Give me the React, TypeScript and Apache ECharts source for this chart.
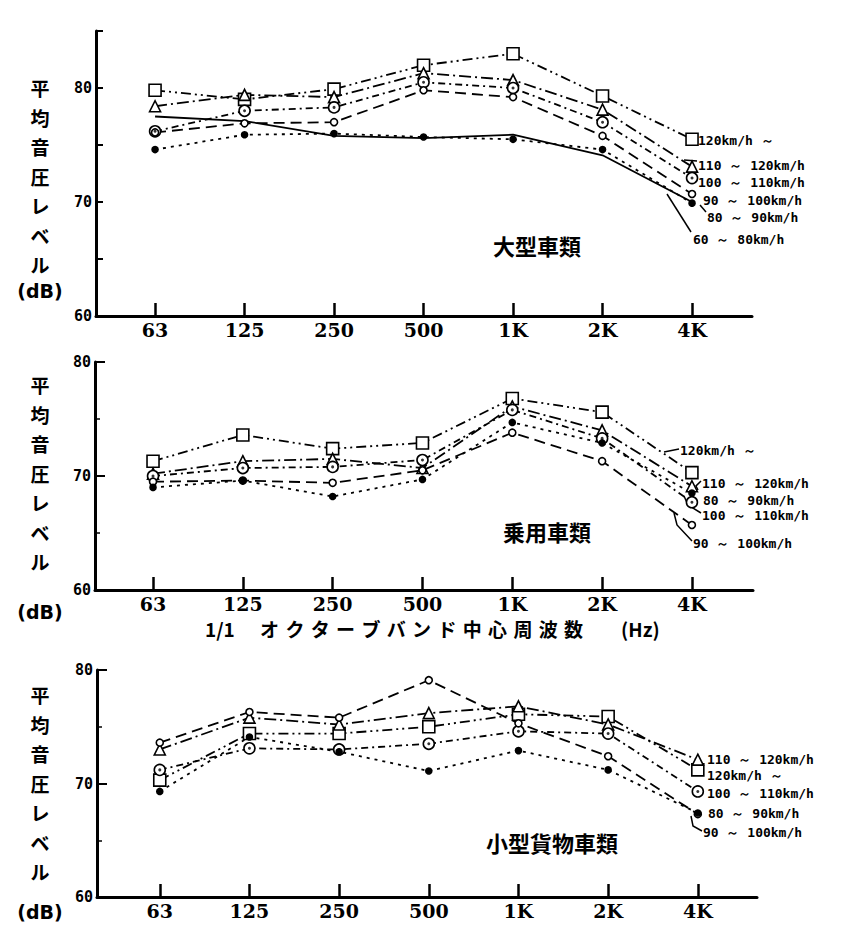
import React, { useEffect, useRef } from 'react';
import * as echarts from 'echarts';

// ---------- data ----------
const freqLabels = ['63', '125', '250', '500', '1K', '2K', '4K'];

const speed120 = '120km/h ～';
const speed110 = '110 ～ 120km/h';
const speed100 = '100 ～ 110km/h';
const speed90 = '90 ～ 100km/h';
const speed80 = '80 ～ 90km/h';
const speed60 = '60 ～ 80km/h';

const titleLarge = '大型車類';
const titleCar = '乗用車類';
const titleVan = '小型貨物車類';
const yAxisName = '平\n均\n音\n圧\nレ\nベ\nル';
const yAxisUnit = '(dB)';
const xAxisName =
  '1/1\u3000\u2004オ\u2004ク\u2004タ\u2004ー\u2004ブ\u2004バ\u2004ン\u2004ド\u2004中\u2004心\u2004周\u2004波\u2004数\u3000\u3000(Hz)';

// 大型車類
const large120 = [79.8, 79.0, 79.9, 82.0, 83.0, 79.3, 75.5];
const large110 = [78.4, 79.4, 79.2, 81.3, 80.7, 78.1, 73.1];
const large100 = [76.2, 78.0, 78.3, 80.5, 80.0, 77.0, 72.1];
const large90 = [76.1, 76.9, 77.0, 79.8, 79.2, 75.8, 70.7];
const large80 = [74.6, 75.9, 76.0, 75.7, 75.5, 74.6, 69.9];
const large60 = [77.5, 77.1, 75.8, 75.6, 75.9, 74.1, 70.0];

// 乗用車類
const car120 = [71.3, 73.6, 72.4, 72.9, 76.8, 75.6, 70.3];
const car110 = [70.2, 71.3, 71.5, 70.7, 76.1, 74.0, 69.1];
const car100 = [70.0, 70.7, 70.8, 71.4, 75.8, 73.3, 67.7];
const car90 = [69.5, 69.6, 69.4, 70.5, 73.8, 71.3, 65.7];
const car80 = [69.0, 69.6, 68.2, 69.7, 74.7, 72.9, 68.5];

// 小型貨物車類
const van120 = [70.3, 74.4, 74.4, 75.0, 76.1, 75.9, 71.2];
const van110 = [73.0, 75.8, 75.2, 76.2, 76.8, 75.2, 72.1];
const van100 = [71.2, 73.1, 73.0, 73.5, 74.6, 74.4, 69.3];
const van90 = [73.6, 76.3, 75.8, 79.1, 75.3, 72.4, 67.3];
const van80 = [69.3, 74.1, 72.8, 71.1, 72.9, 71.2, 67.4];

// ---------- styles ----------
type Kind = '120' | '110' | '100' | '90' | '80' | '60';

const kindStyle: Record<Kind, any> = {
  '120': { symbol: 'rect', size: 12, dash: [10, 4, 2, 4, 2, 4], fill: '#fff' },
  '110': { symbol: 'triangle', size: 11, dash: [12, 4, 2, 4], fill: '#fff' },
  '100': { symbol: 'circle', size: 11, dash: [7, 4, 2, 4], fill: '#fff', dot: true },
  '90': { symbol: 'circle', size: 7, dash: [11, 6], fill: '#fff' },
  '80': { symbol: 'circle', size: 6, dash: [3, 5], fill: '#000' },
  '60': { symbol: 'none', size: 0, dash: 'solid', fill: '#000' },
};

const panels = [
  {
    grid: { left: 96, top: 31, width: 656, height: 285 },
    xMin: -0.66, xMax: 6.67, yMax: 85, interval: 5,
    series: [
      { kind: '120', name: speed120, values: large120 },
      { kind: '110', name: speed110, values: large110 },
      { kind: '100', name: speed100, values: large100 },
      { kind: '90', name: speed90, values: large90 },
      { kind: '80', name: speed80, values: large80 },
      { kind: '60', name: speed60, values: large60 },
    ],
  },
  {
    grid: { left: 95, top: 362, width: 658, height: 228 },
    xMin: -0.646, xMax: 6.68, yMax: 80, interval: 10,
    series: [
      { kind: '120', name: speed120, values: car120 },
      { kind: '110', name: speed110, values: car110 },
      { kind: '100', name: speed100, values: car100 },
      { kind: '90', name: speed90, values: car90 },
      { kind: '80', name: speed80, values: car80 },
    ],
  },
  {
    grid: { left: 97, top: 670, width: 660, height: 227 },
    xMin: -0.7, xMax: 6.66, yMax: 80, interval: 10,
    series: [
      { kind: '120', name: speed120, values: van120 },
      { kind: '110', name: speed110, values: van110 },
      { kind: '100', name: speed100, values: van100 },
      { kind: '90', name: speed90, values: van90 },
      { kind: '80', name: speed80, values: van80 },
    ],
  },
];

const labelFont = '"DejaVu Sans Mono", monospace';
const cjkFont = '"Noto Sans CJK JP", sans-serif';

function buildOption() {
  const grids: any[] = [];
  const xAxes: any[] = [];
  const yAxes: any[] = [];
  const series: any[] = [];

  panels.forEach((p, pi) => {
    grids.push({ ...p.grid, containLabel: false });
    xAxes.push({
      type: 'value',
      gridIndex: pi,
      min: p.xMin,
      max: p.xMax,
      axisLine: { show: true, onZero: false, lineStyle: { color: '#000', width: 3 } },
      axisTick: {
        show: true,
        inside: true,
        length: 13,
        customValues: freqLabels.map((_, i) => i),
        lineStyle: { color: '#000', width: 2.5 },
      },
      axisLabel: {
        show: true,
        customValues: freqLabels.map((_, i) => i),
        formatter: (v: number) => freqLabels[Math.round(v)] ?? '',
        color: '#000',
        fontFamily: '"DejaVu Serif", serif',
        fontWeight: 'bold',
        fontSize: 19,
        lineHeight: 18,
        margin: 5,
      },
      splitLine: { show: false },
    });
    yAxes.push({
      type: 'value',
      gridIndex: pi,
      min: 60,
      max: p.yMax,
      interval: p.interval,
      axisLine: { show: true, onZero: false, lineStyle: { color: '#000', width: 3 } },
      axisTick: {
        show: true,
        inside: true,
        length: p.interval === 5 ? 7 : 10,
        lineStyle: { color: '#000', width: 2 },
      },
      minorTick: {
        show: p.interval === 10,
        splitNumber: 2,
        length: 5,
        lineStyle: { color: '#000', width: 1.5 },
      },
      axisLabel: {
        formatter: (v: number) => (v % 10 === 0 ? String(v) : ''),
        color: '#000',
        fontFamily: labelFont,
        fontWeight: 'bold',
        fontSize: 15,
        margin: 4,
      },
      splitLine: { show: false },
    });

    p.series.forEach((s) => {
      const st = kindStyle[s.kind as Kind];
      const data = s.values.map((v, i) => [i, v]);
      series.push({
        type: 'line',
        name: s.name,
        xAxisIndex: pi,
        yAxisIndex: pi,
        data,
        symbol: st.symbol,
        symbolSize: st.size,
        showSymbol: st.symbol !== 'none',
        silent: true,
        lineStyle: { color: '#000', width: 1.8, type: st.dash },
        itemStyle: { color: st.fill, borderColor: '#000', borderWidth: 1.6 },
        z: 3,
      });
      if (st.dot) {
        series.push({
          type: 'scatter',
          name: s.name + ' dot',
          xAxisIndex: pi,
          yAxisIndex: pi,
          data,
          symbol: 'circle',
          symbolSize: 3,
          silent: true,
          itemStyle: { color: '#000' },
          z: 6,
        });
      }
    });
  });

  const legendText = (text: string, x: number, y: number) => ({
    type: 'text',
    x,
    y,
    style: {
      text,
      fill: '#000',
      font: `bold 13px ${labelFont}`,
      textVerticalAlign: 'middle',
    },
  });
  const cjkText = (text: string, x: number, y: number, size: number, align = 'center') => ({
    type: 'text',
    x,
    y,
    style: {
      text,
      fill: '#000',
      font: `bold ${size}px ${cjkFont}`,
      lineHeight: size,
      textAlign: align,
      textVerticalAlign: 'middle',
    },
  });
  const yName = (top: number) => ({
    type: 'text',
    x: 40,
    y: top,
    style: {
      text: yAxisName,
      fill: '#000',
      font: `bold 19px ${cjkFont}`,
      lineHeight: 29.5,
      textAlign: 'center',
      textVerticalAlign: 'top',
    },
  });
  const unit = (y: number) => ({
    type: 'text',
    x: 40,
    y,
    style: {
      text: yAxisUnit,
      fill: '#000',
      font: `bold 19px "DejaVu Sans", sans-serif`,
      textAlign: 'center',
      textVerticalAlign: 'middle',
    },
  });
  const leader = (points: number[][]) => ({
    type: 'polyline',
    shape: { points },
    style: { stroke: '#000', lineWidth: 1.5, fill: null },
  });

  const graphic: any[] = [
    // y axis names
    yName(73), unit(291),
    yName(370), unit(612),
    yName(680), unit(912),
    // titles
    cjkText(titleLarge, 537, 245, 22),
    cjkText(titleCar, 547, 531, 22),
    cjkText(titleVan, 552, 842, 22),
    // x axis name
    cjkText(xAxisName, 205, 628, 19, 'left'),
    // panel 1 labels
    legendText(speed120, 698, 140),
    legendText(speed110, 698, 165),
    legendText(speed100, 698, 182),
    legendText(speed90, 703, 200),
    legendText(speed80, 707, 217),
    legendText(speed60, 693, 239),
    leader([[684, 160], [697, 161]]),
    leader([[706, 212], [700, 205]]),
    leader([[691, 232], [667, 194]]),
    // panel 2 labels
    legendText(speed120, 680, 450),
    legendText(speed110, 702, 483),
    legendText(speed80, 703, 500),
    legendText(speed100, 702, 515),
    legendText(speed90, 693, 543),
    leader([[679, 449], [664, 452]]),
    leader([[701, 481], [696, 486], [698, 490]]),
    leader([[701, 513], [688, 505], [684, 496]]),
    leader([[692, 541], [677, 525], [674, 513]]),
    // panel 3 labels
    legendText(speed110, 707, 759),
    legendText(speed120, 707, 775),
    legendText(speed100, 707, 793),
    legendText(speed80, 708, 813),
    legendText(speed90, 703, 832),
    leader([[702, 831], [693, 826], [691, 816]]),
  ];

  return {
    animation: false,
    backgroundColor: '#fff',
    grid: grids,
    xAxis: xAxes,
    yAxis: yAxes,
    series,
    graphic,
  };
}

export default function App() {
  const ref = useRef<HTMLDivElement>(null);
  useEffect(() => {
    document.body.style.margin = '0';
    if (!ref.current) return;
    const chart = echarts.init(ref.current, null, { renderer: 'svg' });
    chart.setOption(buildOption() as any);
    return () => chart.dispose();
  }, []);
  return <div ref={ref} style={{ width: 850, height: 950 }} />;
}
